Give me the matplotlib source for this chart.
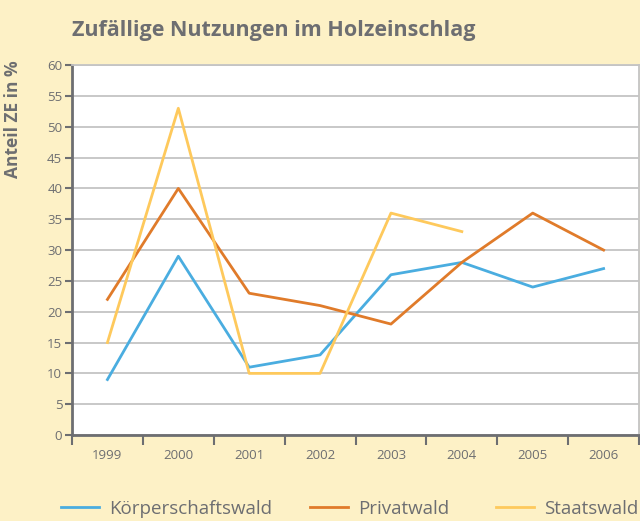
import numpy as np
import matplotlib
matplotlib.use('Agg')
import matplotlib.pyplot as plt

years = ['1999', '2000', '2001', '2002', '2003', '2004', '2005', '2006']
koerperschaft = [9, 29, 11, 13, 26, 28, 24, 27]
privat = [22, 40, 23, 21, 18, 28, 36, 30]
staat = [15, 53, 10, 10, 36, 33, np.nan, np.nan]

bg = '#fdf1c6'
grey = '#6d6e71'

plt.rcParams['font.family'] = ['Open Sans', 'DejaVu Sans']

fig = plt.figure(figsize=(6.4, 5.21), dpi=100, facecolor=bg)
ax = fig.add_axes([0.1125, 0.165, 0.886, 0.710])
ax.set_facecolor('white')

x = np.arange(len(years))
l1, = ax.plot(x, koerperschaft, color='#4aade0', lw=2.0, label='Körperschaftswald')
l2, = ax.plot(x, privat, color='#e07b2a', lw=2.0, label='Privatwald')
l3, = ax.plot(x, staat, color='#fec95c', lw=2.0, label='Staatswald')

ax.set_xlim(-0.5, len(years) - 0.5)
ax.set_ylim(0, 60)
ax.set_yticks(np.arange(0, 61, 5))
ax.set_xticks(np.arange(-0.5, len(years)))
ax.set_xticklabels([])
ax.set_xticks(x, minor=True)
ax.set_xticklabels(years, minor=True)
ax.tick_params(axis='x', which='minor', length=0, pad=10, labelsize=9.5, colors=grey)
ax.tick_params(axis='x', which='major', length=7, width=1.5, color=grey)
ax.tick_params(axis='y', length=5, width=1.5, color=grey, labelsize=9.5, labelcolor=grey, pad=2)

ax.yaxis.grid(True, color='#c4c4c4', lw=1.3)
ax.set_axisbelow(True)
for s in ['left', 'bottom']:
    ax.spines[s].set_color(grey)
    ax.spines[s].set_linewidth(2)
for s in ['top', 'right']:
    ax.spines[s].set_color('#c4c4c4')
    ax.spines[s].set_linewidth(1.3)

fig.text(0.1125, 0.942, 'Zufällige Nutzungen im Holzeinschlag', fontsize=15.5,
         fontweight='bold', color=grey, ha='left', va='center')
fig.text(0.02, 0.885, 'Anteil ZE in %', fontsize=12.5, fontweight='bold',
         color=grey, rotation=90, ha='center', va='top')

# one legend per series so the uneven gaps can be matched
for line, x0 in [(l1, 61), (l2, 310), (l3, 496)]:
    fig.legend(handles=[line], loc='center left', bbox_to_anchor=(x0 / 640, 1 - 509 / 521),
               frameon=False, fontsize=13.5, labelcolor=grey, handlelength=2.0,
               handletextpad=0.55, borderpad=0, borderaxespad=0)

fig.savefig('out.png', dpi=100, facecolor=bg)
